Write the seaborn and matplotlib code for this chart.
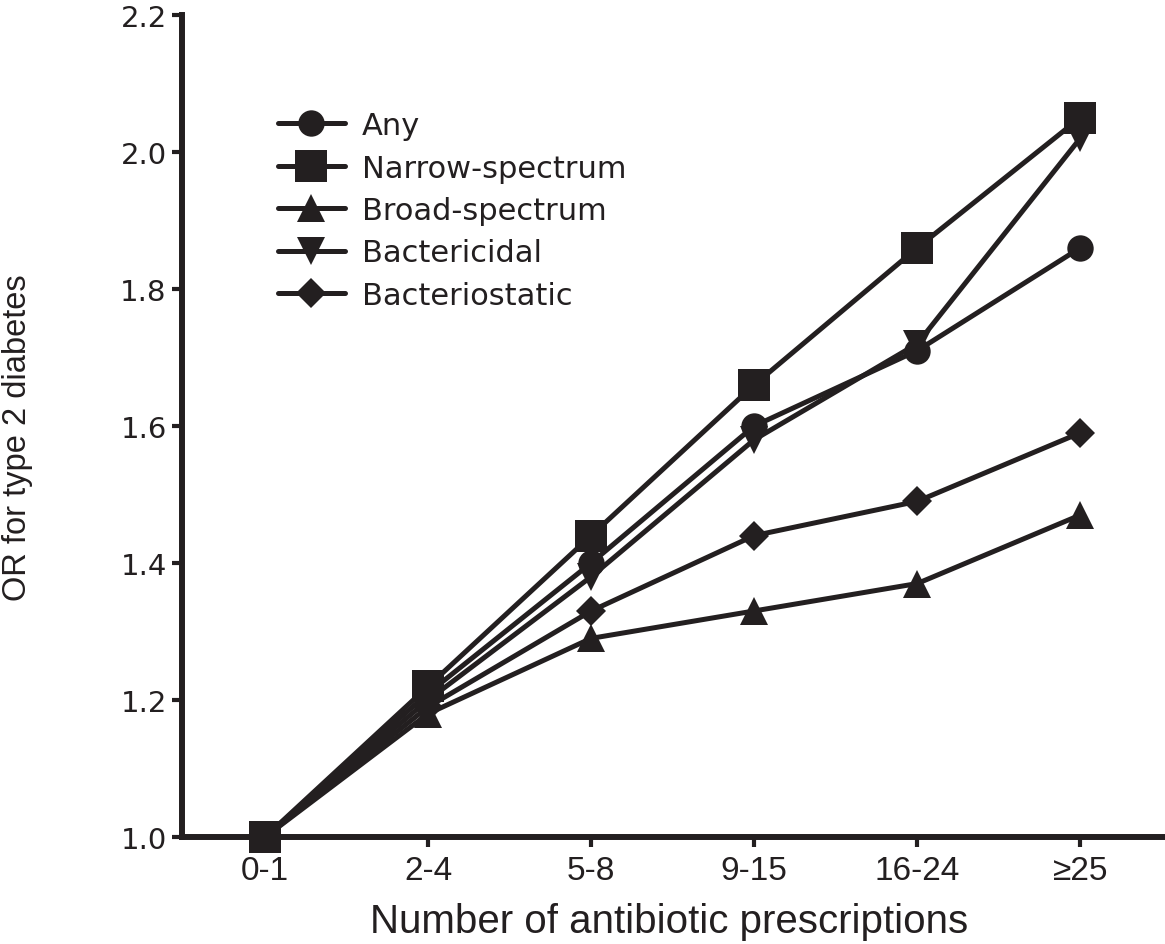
import matplotlib
matplotlib.use("Agg")
import matplotlib.pyplot as plt
import seaborn as sns
import pandas as pd
from matplotlib import font_manager as fm

categories = ["0-1", "2-4", "5-8", "9-15", "16-24", "\u226525"]
any_vals = [1.00, 1.21, 1.40, 1.60, 1.71, 1.86]
narrow_vals = [1.00, 1.22, 1.44, 1.66, 1.86, 2.05]
broad_vals = [1.00, 1.18, 1.29, 1.33, 1.37, 1.47]
bactericidal_vals = [1.00, 1.20, 1.38, 1.58, 1.72, 2.02]
bacteriostatic_vals = [1.00, 1.19, 1.33, 1.44, 1.49, 1.59]
series_names = ["Any", "Narrow-spectrum", "Broad-spectrum", "Bactericidal", "Bacteriostatic"]
yticks = [1.0, 1.2, 1.4, 1.6, 1.8, 2.0, 2.2]

sns.set_theme(style="ticks")
plt.rcParams['font.family'] = ['Liberation Sans', 'DejaVu Sans']

names = {f.name for f in fm.fontManager.ttflist}
narrow = 'Liberation Sans Narrow' if 'Liberation Sans Narrow' in names else 'Liberation Sans'
ylab_size = 26 if narrow == 'Liberation Sans Narrow' else 23.5

fig = plt.figure(figsize=(11.65, 9.45), dpi=100)
ax = fig.add_axes([182/1165, 1-838/945, 1-182/1165, (838-16)/945])

values = [any_vals, narrow_vals, broad_vals, bactericidal_vals, bacteriostatic_vals]
markers = ["o", "s", "^", "v", "D"]
msizes = [19, 23, 20, 20, 15]
for name, vals, mk, ms in zip(series_names, values, markers, msizes):
    df = pd.DataFrame({"cat": categories, "val": vals})
    sns.lineplot(data=df, x="cat", y="val", ax=ax, color="#231f20", marker=mk,
                 markersize=ms, markeredgewidth=0, linewidth=3.6, label=name,
                 sort=False, clip_on=False)

ax.set_xlim(-0.51, 5.52)
ax.set_ylim(1.0, 2.2)
ax.set_yticks(yticks)
ax.set_yticklabels([f"{v:.1f}" for v in yticks], fontsize=21, family='DejaVu Sans')
ax.set_xticks(range(len(categories)))
ax.set_xticklabels(categories, fontsize=24, family=[narrow, 'DejaVu Sans'])

for s in ["top", "right"]:
    ax.spines[s].set_visible(False)
for s in ["left", "bottom"]:
    ax.spines[s].set_linewidth(4.3)
    ax.spines[s].set_color("#231f20")
ax.tick_params(axis="both", direction="out", length=7, width=3, color="#231f20",
               labelcolor="#231f20")
ax.tick_params(axis="y", pad=4)
ax.tick_params(axis="x", pad=6)

ax.set_xlabel("Number of antibiotic prescriptions", fontsize=29, color="#231f20")
ax.set_ylabel("OR for type 2 diabetes", fontsize=ylab_size, color="#231f20", family=narrow)
ax.xaxis.set_label_coords(0.496, -0.079)
ax.yaxis.set_label_coords(-0.152, 0.487)

leg = ax.legend(loc="upper left", bbox_to_anchor=(0.085, 0.898), frameon=False,
                prop={'family': 'DejaVu Sans', 'size': 22}, handlelength=2.2,
                handletextpad=0.55, labelspacing=0.44, borderaxespad=0)
for t in leg.get_texts():
    t.set_color("#231f20")

fig.savefig("out.png", dpi=100)
